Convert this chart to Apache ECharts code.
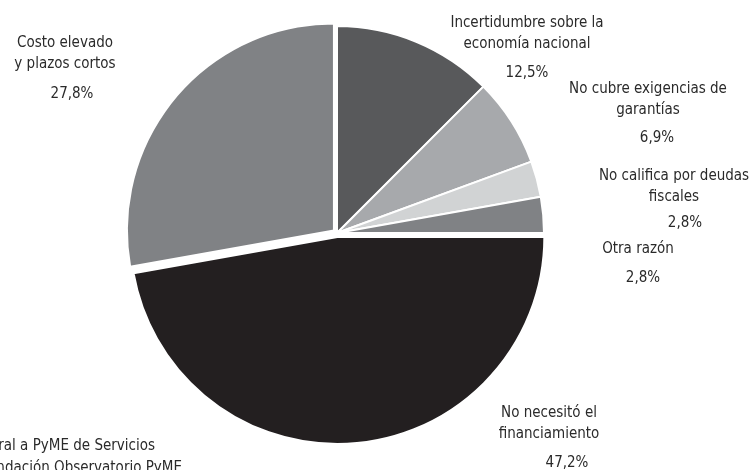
<!DOCTYPE html>
<html>
<head>
<meta charset="utf-8">
<script src="https://cdn.jsdelivr.net/npm/echarts@6/dist/echarts.min.js"></script>
<style>
  html, body { margin: 0; padding: 0; background: #ffffff; }
  #chart { width: 752px; height: 470px; }
</style>
</head>
<body>
<div id="chart"></div>
<script>
// ---- data ----
const categories = [
  'Incertidumbre sobre la\neconomía nacional',
  'No cubre exigencias de\ngarantías',
  'No califica por deudas\nfiscales',
  'Otra razón',
  'No necesitó el\nfinanciamiento',
  'Costo elevado\ny plazos cortos'
];
const shares = [12.5, 6.9, 2.8, 2.8, 47.2, 27.8];
const sourceLines = [
  'Fuente: Encuesta Estructural a PyME de Servicios',
  'Fundación Observatorio PyME'
];

// ---- styles / layout ----
const colors = ['#58595b', '#a7a9ac', '#d1d3d4', '#808285', '#231f20', '#808285'];
const exploded = [false, false, false, false, true, true];
// label anchor: centre x, top y of the first line
const labelPos = [[527, 13], [648, 79], [674, 166], [638, 239], [549, 403], [65, 33]];
// extra left padding that nudges the percentage line to the right
const pctShift = [0, 18, 22, 10, 36, 14];
const pctGap = [37, 35, 30, 37, 37, 39];
const FONT = '"DejaVu Sans Condensed", "DejaVu Sans", sans-serif';
const FS = 15;
const TXT = '#2a2a2a';
const CENTER = [337, 233];
const RADIUS = 207;

const chart = echarts.init(document.getElementById('chart'), null, { renderer: 'canvas' });

const pieData = categories.map((c, i) => ({
  name: c, value: shares[i], selected: exploded[i], itemStyle: { color: colors[i] }
}));

const labelData = categories.map((c, i) => ({
  name: c,
  value: shares[i],
  label: {
    formatter: function (p) {
      const lines = p.name.split('\n').map(l => '{n|' + l + '}').join('\n');
      return lines + '\n{p' + i + '|' + p.value.toFixed(1).replace('.', ',') + '%}';
    }
  }
}));

const rich = { n: { fontFamily: FONT, fontSize: FS, lineHeight: 21, color: TXT } };
shares.forEach((s, i) => {
  rich['p' + i] = {
    fontFamily: FONT, fontSize: FS, lineHeight: pctGap[i], color: TXT,
    padding: [0, 0, 0, pctShift[i]]
  };
});

chart.setOption({
  animation: false,
  backgroundColor: '#ffffff',
  series: [{
    type: 'pie',
    center: CENTER,
    radius: RADIUS,
    startAngle: 90,
    clockwise: true,
    selectedMode: 'multiple',
    selectedOffset: 4,
    itemStyle: { borderColor: '#ffffff', borderWidth: 2 },
    label: { show: false },
    labelLine: { show: false },
    emphasis: { disabled: true },
    silent: true,
    data: pieData
  }, {
    type: 'pie',
    center: CENTER,
    radius: RADIUS,
    startAngle: 90,
    clockwise: true,
    selectedMode: false,
    avoidLabelOverlap: false,
    silent: true,
    z: 3,
    itemStyle: { color: 'rgba(0,0,0,0)', borderWidth: 0 },
    label: {
      show: true,
      position: 'outside',
      align: 'center',
      fontFamily: FONT,
      fontSize: FS,
      color: TXT,
      rich: rich
    },
    labelLine: { show: false },
    labelLayout: function (params) {
      const p = labelPos[params.dataIndex];
      return { x: p[0], y: p[1], align: 'center', verticalAlign: 'top', hideOverlap: false, moveOverlap: null };
    },
    emphasis: { disabled: true },
    data: labelData
  }],
  graphic: [
    { type: 'text', x: 155, y: 439,
      style: { text: sourceLines[0], align: 'right', verticalAlign: 'top', font: FS + 'px ' + FONT, fill: TXT } },
    { type: 'text', x: 182, y: 461,
      style: { text: sourceLines[1], align: 'right', verticalAlign: 'top', font: FS + 'px ' + FONT, fill: TXT } }
  ]
});
</script>
</body>
</html>
